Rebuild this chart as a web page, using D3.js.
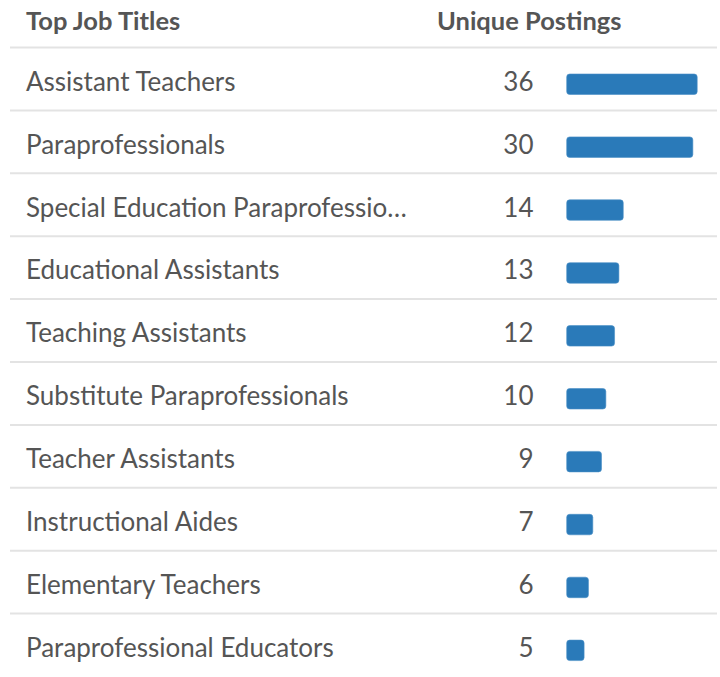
<!DOCTYPE html>
<html>
<head>
<meta charset="utf-8">
<script src="https://cdn.jsdelivr.net/npm/d3@7"></script>
<style>
  html, body { margin: 0; padding: 0; background: #fff; }
  svg { display: block; font-family: Lato, "Open Sans", sans-serif; }
</style>
</head>
<body>
<svg id="chart" width="720" height="677"></svg>
<script>
const headers = ["Top Job Titles", "Unique Postings"];
const titles = [
  "Assistant Teachers",
  "Paraprofessionals",
  "Special Education Paraprofessionals",
  "Educational Assistants",
  "Teaching Assistants",
  "Substitute Paraprofessionals",
  "Teacher Assistants",
  "Instructional Aides",
  "Elementary Teachers",
  "Paraprofessional Educators"
];
const postings = [36, 30, 14, 13, 12, 10, 9, 7, 6, 5];

const svg = d3.select("#chart");
const rowH = 62.9;
const top0 = 47.5;
const textColor = "#555555";

const y = d3.scaleBand()
  .domain(d3.range(titles.length))
  .range([top0, top0 + rowH * titles.length])
  .paddingInner(0).paddingOuter(0);

const w = d3.scaleLinear().domain([1, 31]).range([0, 130.5]).clamp(true);

// Header
svg.append("text").attr("x", 26).attr("y", 29.5)
  .attr("font-size", 25.5).attr("font-weight", 700).attr("fill", textColor)
  .text(headers[0]);
svg.append("text").attr("x", 437).attr("y", 29.5)
  .attr("font-size", 25.5).attr("font-weight", 700).attr("fill", textColor)
  .text(headers[1]);

// Separator lines
const lines = [top0].concat(d3.range(titles.length).map(i => y(i) + y.bandwidth()));
lines.pop();
svg.selectAll("line.sep").data(lines).join("line")
  .attr("class", "sep")
  .attr("x1", 10).attr("x2", 717)
  .attr("y1", d => d).attr("y2", d => d)
  .attr("stroke", "#e3e3e3").attr("stroke-width", 2);

const rows = svg.selectAll("g.row").data(titles.map((t, i) => ({t, v: postings[i], i})))
  .join("g").attr("class", "row")
  .attr("transform", d => `translate(0,${y(d.i)})`);

rows.append("text")
  .attr("x", 26).attr("y", 43.3)
  .attr("font-size", 26).attr("fill", textColor)
  .text(d => d.t)
  .each(function(d) {
    const el = d3.select(this);
    const maxW = 382;
    if (this.getComputedTextLength() > maxW) {
      let s = d.t;
      while (s.length > 0) {
        s = s.slice(0, -1);
        el.text(s + "…");
        if (this.getComputedTextLength() <= maxW) break;
      }
    }
  });

rows.append("text")
  .attr("x", 533.5).attr("y", 43.3)
  .attr("text-anchor", "end")
  .attr("font-size", 26).attr("fill", textColor)
  .text(d => d.v);

rows.append("rect")
  .attr("x", 566.7).attr("y", 26.5)
  .attr("width", d => w(d.v)).attr("height", 20.5)
  .attr("rx", 3).attr("ry", 3)
  .attr("fill", "#2a7ab9")
  .attr("stroke", "#4a8fc6").attr("stroke-width", 0.6);
</script>
</body>
</html>
